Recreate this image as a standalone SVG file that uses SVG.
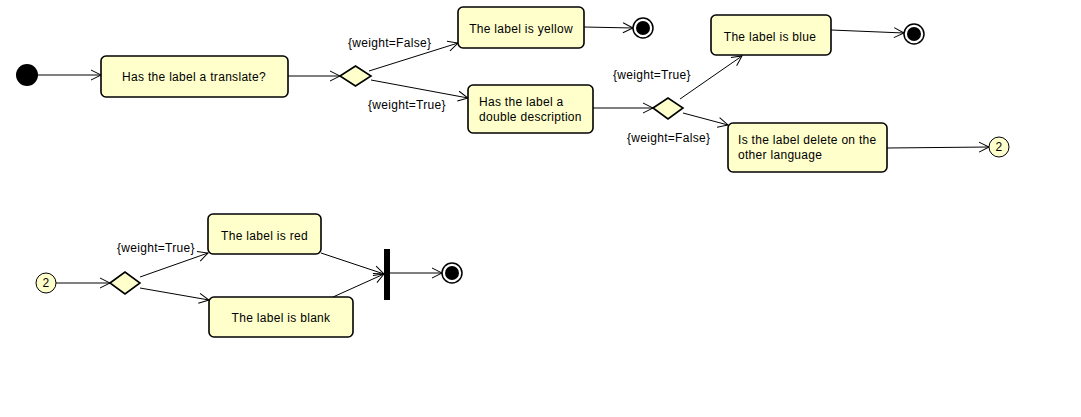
<svg xmlns="http://www.w3.org/2000/svg" width="1081" height="417" viewBox="0 0 1081 417">
  <style>
    text { font-family: "Liberation Sans", Arial, sans-serif; font-size: 12px; letter-spacing: 0.3px; fill: #000; }
    .action { fill: #ffffcc; stroke: #000; stroke-width: 1.6; }
    .decision { fill: #ffffcc; stroke: #000; stroke-width: 1.6; }
    .conn { fill: #ffffcc; stroke: #000; stroke-width: 1; }
    .flow { fill: none; stroke: #000; stroke-width: 1; marker-end: url(#open); }
    .mid { text-anchor: middle; }
  </style>
  <defs>
    <marker id="open" markerUnits="userSpaceOnUse" markerWidth="12" markerHeight="12" refX="11" refY="6" orient="auto" overflow="visible">
      <path d="M1,1 L11,6 L1,11" fill="none" stroke="#000" stroke-width="1"/>
    </marker>
  </defs>
  <rect width="1081" height="417" fill="#fff"/>

  <!-- connectors -->
  <g id="flows">
    <line class="flow" x1="38" y1="75" x2="101" y2="75"/>
    <line class="flow" x1="288" y1="76" x2="340" y2="76"/>
    <line class="flow" x1="369" y1="71" x2="458" y2="43"/>
    <line class="flow" x1="371" y1="80" x2="468" y2="98"/>
    <line class="flow" x1="584" y1="27" x2="633" y2="28"/>
    <line class="flow" x1="593" y1="108" x2="653" y2="108"/>
    <line class="flow" x1="680" y1="99" x2="742" y2="56"/>
    <line class="flow" x1="683" y1="113" x2="728" y2="125"/>
    <line class="flow" x1="831" y1="30" x2="904" y2="33"/>
    <line class="flow" x1="887" y1="148" x2="989" y2="147"/>
    <line class="flow" x1="56" y1="283" x2="110" y2="283"/>
    <line class="flow" x1="140" y1="277" x2="208" y2="253"/>
    <line class="flow" x1="140" y1="288" x2="209" y2="300"/>
    <line class="flow" x1="321" y1="253" x2="384" y2="274"/>
    <line class="flow" x1="333" y1="297" x2="384" y2="274"/>
    <line class="flow" x1="390" y1="273" x2="442" y2="273"/>
    <text x="348" y="47">{weight=False}</text>
    <text x="368" y="109">{weight=True}</text>
    <text x="613" y="79">{weight=True}</text>
    <text x="627" y="142">{weight=False}</text>
    <text x="117" y="252">{weight=True}</text>
  </g>

  <g id="start">
    <circle cx="27" cy="75" r="11" fill="#000"/>
  </g>

  <g id="translate">
    <rect class="action" x="101" y="56" width="187" height="41" rx="5"/>
    <text class="mid" x="194" y="81">Has the label a translate?</text>
  </g>

  <g id="decision1">
    <polygon class="decision" points="340,76 355.5,66 371,76 355.5,86"/>
  </g>

  <g id="yellow">
    <rect class="action" x="458" y="7" width="126" height="41" rx="5"/>
    <text class="mid" x="521" y="33">The label is yellow</text>
  </g>

  <g id="end1">
    <circle cx="643" cy="28" r="10" fill="#fff" stroke="#000" stroke-width="1.5"/>
    <circle cx="643" cy="28" r="7" fill="#000"/>
  </g>

  <g id="double">
    <rect class="action" x="468" y="85" width="125" height="48" rx="5"/>
    <text x="479" y="106">Has the label a</text>
    <text x="479" y="121">double description</text>
  </g>

  <g id="decision2">
    <polygon class="decision" points="653,108 668,98 683,108 668,119"/>
  </g>

  <g id="blue">
    <rect class="action" x="711" y="15" width="120" height="40" rx="5"/>
    <text class="mid" x="770" y="41">The label is blue</text>
  </g>

  <g id="end2">
    <circle cx="914" cy="34" r="10" fill="#fff" stroke="#000" stroke-width="1.5"/>
    <circle cx="914" cy="34" r="7" fill="#000"/>
  </g>

  <g id="delete">
    <rect class="action" x="728" y="123" width="159" height="49" rx="5"/>
    <text x="738" y="144">Is the label delete on the</text>
    <text x="738" y="159">other language</text>
  </g>

  <g id="connectorOut">
    <circle class="conn" cx="999" cy="147" r="10"/>
    <text class="mid" x="999" y="151">2</text>
  </g>

  <g id="connectorIn">
    <circle class="conn" cx="46" cy="283" r="10"/>
    <text class="mid" x="46" y="287">2</text>
  </g>

  <g id="decision3">
    <polygon class="decision" points="110,283 125,272 140,283 125,294"/>
  </g>

  <g id="red">
    <rect class="action" x="208" y="214" width="113" height="40" rx="5"/>
    <text class="mid" x="264.5" y="240">The label is red</text>
  </g>

  <g id="blank">
    <rect class="action" x="209" y="297" width="144" height="40" rx="5"/>
    <text class="mid" x="281" y="322">The label is blank</text>
  </g>

  <g id="join">
    <rect x="384" y="249" width="6" height="51" fill="#000"/>
  </g>

  <g id="end3">
    <circle cx="452" cy="273" r="10" fill="#fff" stroke="#000" stroke-width="1.5"/>
    <circle cx="452" cy="273" r="7" fill="#000"/>
  </g>
</svg>
